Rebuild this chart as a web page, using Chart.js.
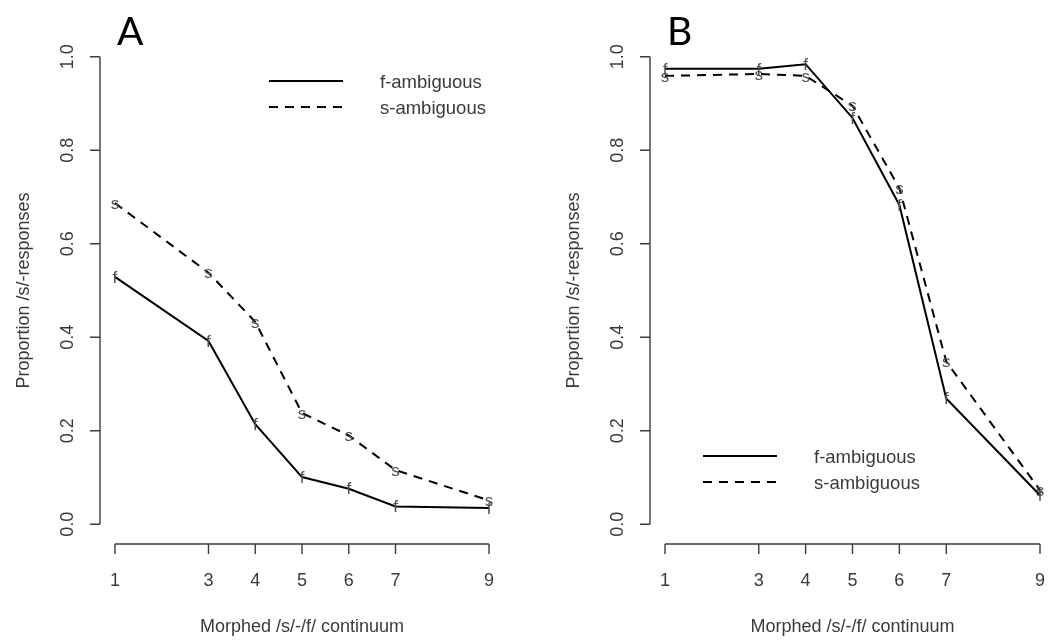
<!DOCTYPE html>
<html>
<head>
<meta charset="utf-8">
<script src="https://cdn.jsdelivr.net/npm/chart.js@4.4.1/dist/chart.umd.min.js"></script>
<style>
html,body{margin:0;padding:0;background:#fff;width:1050px;height:641px;overflow:hidden;}
#wrap{position:relative;width:1050px;height:641px;overflow:hidden;}
canvas{position:absolute;top:0;}
#cA{left:0;}
#cB{left:525px;}
</style>
</head>
<body>
<div id="wrap">
<canvas id="cA" width="525" height="641"></canvas>
<canvas id="cB" width="535" height="641"></canvas>
</div>
<script>
// ---- data ----
const xValues = [1, 3, 4, 5, 6, 7, 9];
const xTickLabels = ['1', '3', '4', '5', '6', '7', '9'];
const yTickValues = [0, 0.2, 0.4, 0.6, 0.8, 1.0];
const yTickLabels = ['0.0', '0.2', '0.4', '0.6', '0.8', '1.0'];
const seriesNames = ['f-ambiguous', 's-ambiguous'];
const seriesMarkers = ['f', 's'];
const fAmbA = [0.529, 0.392, 0.214, 0.101, 0.076, 0.038, 0.035];
const sAmbA = [0.687, 0.538, 0.433, 0.238, 0.190, 0.116, 0.051];
const fAmbB = [0.974, 0.974, 0.984, 0.869, 0.683, 0.269, 0.062];
const sAmbB = [0.959, 0.963, 0.959, 0.895, 0.719, 0.348, 0.073];
const xTitle = 'Morphed /s/-/f/ continuum';
const yTitle = 'Proportion /s/-responses';

const AXIS_COL = '#3c3c3c';
const TEXT_COL = '#3a3a3a';
const FONT = '"Liberation Sans", Arial, sans-serif';

function mkPlugin(panelLetter, legendPos) {
  return {
    id: 'rstyle' + panelLetter,
    afterDatasetsDraw(chart) {
      const ctx = chart.ctx;
      ctx.save();
      ctx.fillStyle = '#505050';
      ctx.font = '17px ' + FONT;
      ctx.textAlign = 'center';
      ctx.textBaseline = 'middle';
      chart.data.datasets.forEach((ds, di) => {
        const meta = chart.getDatasetMeta(di);
        meta.data.forEach(pt => {
          ctx.fillText(seriesMarkers[di], pt.x, pt.y + 1);
        });
      });
      ctx.restore();
    },
    afterDraw(chart) {
      const ctx = chart.ctx;
      const xs = chart.scales.x, ys = chart.scales.y;
      const area = chart.chartArea;
      ctx.save();
      // y axis
      ctx.strokeStyle = AXIS_COL;
      ctx.lineWidth = 1.4;
      const yTop = ys.getPixelForValue(yTickValues[yTickValues.length - 1]);
      const yBot = ys.getPixelForValue(yTickValues[0]);
      const axX = area.left;
      ctx.beginPath();
      ctx.moveTo(axX, yTop); ctx.lineTo(axX, yBot);
      yTickValues.forEach(v => {
        const p = ys.getPixelForValue(v);
        ctx.moveTo(axX, p); ctx.lineTo(axX - 10, p);
      });
      ctx.stroke();
      // x axis
      const axY = area.bottom + 1;
      const xL = xs.getPixelForValue(xValues[0]);
      const xR = xs.getPixelForValue(xValues[xValues.length - 1]);
      ctx.beginPath();
      ctx.moveTo(xL, axY); ctx.lineTo(xR, axY);
      xValues.forEach(v => {
        const p = xs.getPixelForValue(v);
        ctx.moveTo(p, axY); ctx.lineTo(p, axY + 10);
      });
      ctx.stroke();
      // tick labels
      ctx.fillStyle = TEXT_COL;
      ctx.font = '18px ' + FONT;
      ctx.textAlign = 'center';
      ctx.textBaseline = 'middle';
      xValues.forEach((v, i) => {
        ctx.fillText(xTickLabels[i], xs.getPixelForValue(v), axY + 37);
      });
      yTickValues.forEach((v, i) => {
        const p = ys.getPixelForValue(v);
        ctx.save();
        ctx.translate(axX - 32, p);
        ctx.rotate(-Math.PI / 2);
        ctx.fillText(yTickLabels[i], 0, 0);
        ctx.restore();
      });
      // axis titles
      const cx = (area.left + area.right) / 2;
      const cy = (area.top + area.bottom) / 2;
      ctx.fillText(xTitle, cx, 627);
      ctx.save();
      ctx.translate(axX - 76, cy);
      ctx.rotate(-Math.PI / 2);
      ctx.fillText(yTitle, 0, 0);
      ctx.restore();
      // panel letter
      ctx.fillStyle = '#000';
      ctx.font = '39px Lato, "Open Sans", sans-serif';
      ctx.textAlign = 'left';
      ctx.textBaseline = 'alphabetic';
      ctx.fillText(panelLetter, axX + 17, 45);
      // legend
      ctx.strokeStyle = '#000';
      ctx.lineWidth = 2;
      chart.data.datasets.forEach((ds, di) => {
        const ly = legendPos.y + di * 26;
        ctx.setLineDash(ds.borderDash || []);
        ctx.beginPath();
        ctx.moveTo(legendPos.x, ly);
        ctx.lineTo(legendPos.x + 74, ly);
        ctx.stroke();
        ctx.setLineDash([]);
        ctx.fillStyle = TEXT_COL;
        ctx.font = '18.5px ' + FONT;
        ctx.textBaseline = 'middle';
        ctx.fillText(seriesNames[di], legendPos.x + 111, ly + 2);
      });
      ctx.restore();
    }
  };
}

function mkChart(id, fVals, sVals, padding, xMax, letter, legendPos) {
  return new Chart(document.getElementById(id), {
    type: 'line',
    data: {
      labels: xValues,
      datasets: [
        { label: seriesNames[0], data: xValues.map((x, i) => ({x: x, y: fVals[i]})),
          borderColor: '#000', borderWidth: 2, pointRadius: 0, tension: 0, fill: false },
        { label: seriesNames[1], data: xValues.map((x, i) => ({x: x, y: sVals[i]})),
          borderColor: '#000', borderWidth: 2, borderDash: [9, 7], pointRadius: 0, tension: 0, fill: false }
      ]
    },
    options: {
      responsive: false,
      animation: false,
      devicePixelRatio: 1,
      layout: { padding: padding },
      plugins: { legend: { display: false }, tooltip: { enabled: false } },
      scales: {
        x: { type: 'linear', min: 0.68, max: xMax, display: false },
        y: { type: 'linear', min: -0.04, max: 1.04, display: false }
      }
    },
    plugins: [mkPlugin(letter, legendPos)]
  });
}

mkChart('cA', fAmbA, sAmbA, {left: 100, right: 21, top: 38, bottom: 98}, 9.32, 'A', {x: 269, y: 81});
mkChart('cB', fAmbB, sAmbB, {left: 125, right: 5, top: 38, bottom: 98}, 9.32, 'B', {x: 178, y: 456});
</script>
</body>
</html>
